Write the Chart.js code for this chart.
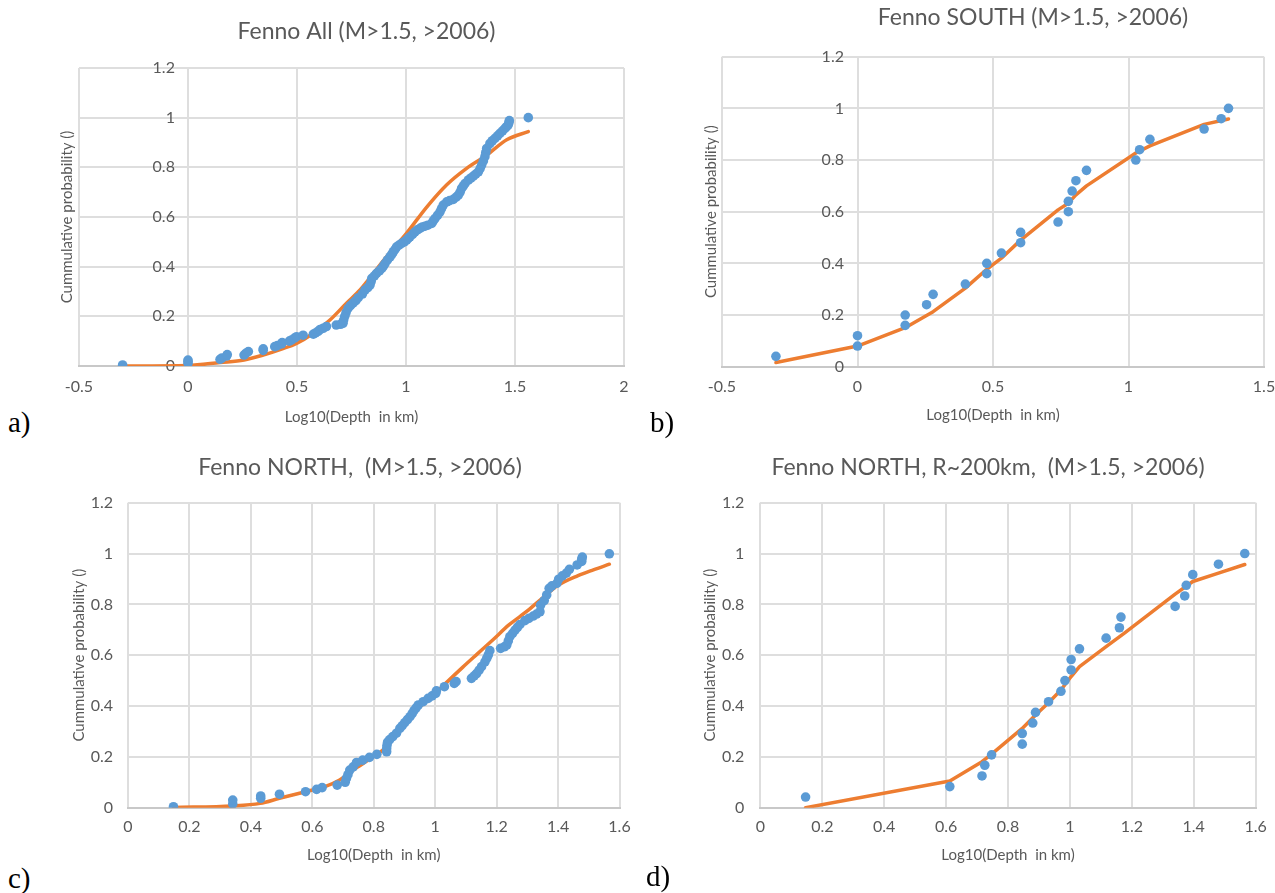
<!DOCTYPE html>
<html>
<head>
<meta charset="utf-8">
<title>Fenno depth distributions</title>
<script src="https://cdn.jsdelivr.net/npm/chart.js@4.4.1/dist/chart.umd.min.js"></script>
<style>
  html, body { margin: 0; padding: 0; width: 1275px; height: 893px; overflow: hidden; background: #fff; }
  .panel { position: absolute; }
  .tag { position: absolute; font-family: "Liberation Serif", "DejaVu Serif", serif; font-size: 29px; line-height: 1; color: #000; }
</style>
</head>
<body>
<div class="panel" style="left:40px;top:0px;width:653px;height:440px"><canvas id="chartAll"></canvas></div>
<div class="panel" style="left:690px;top:0px;width:686px;height:440px"><canvas id="chartSouth"></canvas></div>
<div class="panel" style="left:60px;top:440px;width:600px;height:440px"><canvas id="chartNorth"></canvas></div>
<div class="panel" style="left:690px;top:440px;width:596px;height:440px"><canvas id="chartNorthR"></canvas></div>
<div class="tag" style="left:8px;top:408px">a)</div>
<div class="tag" style="left:650px;top:408px">b)</div>
<div class="tag" style="left:8px;top:864px">c)</div>
<div class="tag" style="left:646px;top:862px">d)</div>
<script>
// ---- tick values ----
const xTicksAll   = [-0.5, 0, 0.5, 1, 1.5, 2];
const xTicksSouth = [-0.5, 0, 0.5, 1, 1.5];
const xTicksNorth = [0, 0.2, 0.4, 0.6, 0.8, 1, 1.2, 1.4, 1.6];
const yTicks      = [0, 0.2, 0.4, 0.6, 0.8, 1, 1.2];

// ---- titles ----
const titleAll    = 'Fenno All (M>1.5, >2006)';
const titleSouth  = 'Fenno SOUTH (M>1.5, >2006)';
const titleNorth  = 'Fenno NORTH,  (M>1.5, >2006)';
const titleNorthR = 'Fenno NORTH, R~200km,  (M>1.5, >2006)';
const xTitle = 'Log10(Depth  in km)';
const yTitle = 'Cummulative probability ()';

// ---- Fenno All: observed log10 depth / cumulative probability ----
const allObsX = [-0.30, 0, 0, 0, 0.147, 0.155, 0.177, 0.18, 0.257, 0.265, 0.277, 0.345, 0.345, 0.398, 0.41, 0.429, 0.432,
  0.465, 0.475, 0.488, 0.498, 0.528, 0.575, 0.585, 0.597, 0.606, 0.62, 0.635, 0.68, 0.70, 0.711, 0.714, 0.719, 0.725,
  0.734, 0.745, 0.757, 0.77, 0.781, 0.80, 0.812, 0.825, 0.835, 0.84, 0.843, 0.855, 0.865, 0.878, 0.889, 0.897, 0.904,
  0.915, 0.927, 0.935, 0.942, 0.95, 0.957, 0.968, 0.98, 0.992, 1.003, 1.01, 1.018, 1.03, 1.041, 1.052, 1.064, 1.075,
  1.087, 1.10, 1.118, 1.125, 1.133, 1.145, 1.156, 1.163, 1.171, 1.187, 1.20, 1.217, 1.23, 1.24, 1.248, 1.255, 1.263,
  1.271, 1.286, 1.298, 1.309, 1.32, 1.332, 1.34, 1.347, 1.355, 1.362, 1.366, 1.370, 1.385, 1.396, 1.408, 1.42, 1.431,
  1.443, 1.454, 1.462, 1.469, 1.472, 1.474, 1.561];
const allObsY = [0.004, 0.011, 0.018, 0.024, 0.027, 0.032, 0.040, 0.046, 0.044, 0.051, 0.058, 0.063, 0.069, 0.078, 0.082, 0.089, 0.094,
  0.100, 0.105, 0.112, 0.118, 0.124, 0.128, 0.133, 0.140, 0.147, 0.152, 0.159, 0.165, 0.168, 0.172, 0.185, 0.200, 0.215,
  0.232, 0.243, 0.253, 0.263, 0.275, 0.290, 0.306, 0.316, 0.326, 0.340, 0.353, 0.363, 0.373, 0.383, 0.393, 0.403, 0.413,
  0.427, 0.440, 0.450, 0.460, 0.470, 0.480, 0.487, 0.494, 0.500, 0.507, 0.514, 0.520, 0.530, 0.540, 0.548, 0.554, 0.560,
  0.563, 0.567, 0.574, 0.584, 0.594, 0.607, 0.621, 0.634, 0.648, 0.661, 0.666, 0.671, 0.680, 0.688, 0.700, 0.715, 0.725,
  0.735, 0.749, 0.757, 0.765, 0.773, 0.782, 0.795, 0.809, 0.826, 0.843, 0.860, 0.876, 0.896, 0.907, 0.917, 0.927, 0.937,
  0.947, 0.957, 0.964, 0.971, 0.980, 0.988, 1.000];
// fitted cumulative curve
const allFitX = [-0.30, 0, 0.147, 0.257, 0.345, 0.429, 0.498, 0.575, 0.651, 0.727, 0.789, 0.82, 0.911, 1.003, 1.095, 1.187, 1.278, 1.37, 1.462, 1.561];
const allFitY = [0, 0.002, 0.014, 0.024, 0.044, 0.068, 0.091, 0.132, 0.185, 0.253, 0.306, 0.339, 0.440, 0.535, 0.640, 0.730, 0.796, 0.849, 0.911, 0.944];

// ---- Fenno SOUTH ----
const southObsX = [-0.301, 0, 0, 0.176, 0.176, 0.255, 0.279, 0.398, 0.477, 0.477, 0.531, 0.602, 0.602, 0.740, 0.778, 0.778,
  0.792, 0.806, 0.845, 1.027, 1.041, 1.079, 1.279, 1.342, 1.369];
const southObsY = [0.04, 0.08, 0.12, 0.16, 0.20, 0.24, 0.28, 0.32, 0.36, 0.40, 0.44, 0.48, 0.52, 0.56, 0.60, 0.64,
  0.68, 0.72, 0.76, 0.80, 0.84, 0.88, 0.92, 0.96, 1.00];
const southFitX = [-0.301, 0, 0.176, 0.279, 0.398, 0.477, 0.531, 0.602, 0.740, 0.778, 0.806, 0.845, 1.027, 1.079, 1.279, 1.369];
const southFitY = [0.016, 0.080, 0.151, 0.213, 0.304, 0.377, 0.420, 0.490, 0.607, 0.633, 0.665, 0.700, 0.827, 0.855, 0.938, 0.959];

// ---- Fenno NORTH ----
const northObsX = [0.148, 0.341, 0.341, 0.432, 0.432, 0.493, 0.578, 0.614, 0.632, 0.681, 0.707, 0.711, 0.716, 0.722, 0.733,
  0.744, 0.764, 0.786, 0.810, 0.842, 0.842, 0.843, 0.845, 0.852, 0.862, 0.874, 0.885, 0.893, 0.901, 0.91, 0.918, 0.925,
  0.931, 0.938, 0.945, 0.961, 0.977, 0.99, 1.002, 1.004, 1.03, 1.062, 1.068, 1.118, 1.127, 1.135, 1.143, 1.151, 1.162,
  1.168, 1.173, 1.178, 1.213, 1.225, 1.233, 1.238, 1.243, 1.252, 1.260, 1.268, 1.276, 1.292, 1.305, 1.319, 1.33, 1.341,
  1.343, 1.355, 1.363, 1.371, 1.38, 1.396, 1.402, 1.414, 1.427, 1.437, 1.462, 1.477, 1.477, 1.479, 1.567];
const northObsY = [0.004, 0.015, 0.030, 0.037, 0.046, 0.053, 0.063, 0.072, 0.079, 0.089, 0.100, 0.115, 0.130, 0.148, 0.161,
  0.178, 0.187, 0.198, 0.210, 0.220, 0.232, 0.245, 0.258, 0.268, 0.280, 0.293, 0.312, 0.323, 0.335, 0.347, 0.358, 0.370,
  0.382, 0.393, 0.404, 0.417, 0.430, 0.440, 0.450, 0.460, 0.476, 0.489, 0.496, 0.509, 0.519, 0.528, 0.541, 0.555, 0.574,
  0.588, 0.601, 0.618, 0.627, 0.633, 0.640, 0.656, 0.673, 0.686, 0.699, 0.710, 0.721, 0.736, 0.745, 0.754, 0.762, 0.771,
  0.797, 0.815, 0.837, 0.863, 0.873, 0.883, 0.899, 0.912, 0.923, 0.938, 0.955, 0.969, 0.978, 0.986, 0.999];
const northFitX = [0.148, 0.341, 0.43, 0.493, 0.578, 0.635, 0.689, 0.733, 0.798, 0.842, 0.875, 0.94, 1.005, 1.04, 1.09, 1.14, 1.19, 1.24, 1.302, 1.352, 1.40, 1.465, 1.515, 1.567];
const northFitY = [0.001, 0.007, 0.017, 0.037, 0.063, 0.080, 0.109, 0.148, 0.200, 0.240, 0.290, 0.384, 0.455, 0.496, 0.553, 0.608, 0.663, 0.719, 0.776, 0.828, 0.875, 0.913, 0.936, 0.958];

// ---- Fenno NORTH, R~200km ----
const northRObsX = [0.146, 0.612, 0.716, 0.725, 0.747, 0.846, 0.846, 0.880, 0.889, 0.931, 0.971, 0.984, 1.004, 1.004,
  1.031, 1.117, 1.160, 1.165, 1.340, 1.371, 1.376, 1.397, 1.480, 1.565];
const northRObsY = [0.042, 0.083, 0.125, 0.167, 0.208, 0.250, 0.292, 0.333, 0.375, 0.417, 0.458, 0.500, 0.542, 0.583,
  0.625, 0.667, 0.708, 0.750, 0.792, 0.833, 0.875, 0.917, 0.958, 1.000];
const northRFitX = [0.146, 0.612, 0.716, 0.747, 0.846, 0.889, 0.931, 0.971, 1.004, 1.031, 1.117, 1.175, 1.340, 1.397, 1.480, 1.565];
const northRFitY = [0, 0.105, 0.181, 0.211, 0.312, 0.365, 0.413, 0.463, 0.516, 0.555, 0.634, 0.686, 0.840, 0.890, 0.923, 0.957];

// ---- shared styling ----
const FONT = 'Lato, "Open Sans", sans-serif';
const TEXT = '#595959';
const GRID = '#dedede';
const AXIS_LINE = '#c8c8c8';
const DOT = '#5b9bd5';
const FIT = '#ed7d31';
const TICK_SIZE = 16, AXIS_TITLE_SIZE = 15, TITLE_SIZE = 23;

const pairs = (xs, ys) => xs.map((x, i) => ({ x: x, y: ys[i] }));
const fmt = v => String(Math.round(v * 10) / 10);

function buildChart(id, s) {
  const tickFont = { family: FONT, size: TICK_SIZE };
  const axisFont = { family: FONT, size: AXIS_TITLE_SIZE };
  const scales = {
    x: {
      type: 'linear',
      min: s.xTicks[0], max: s.xTicks[s.xTicks.length - 1],
      afterBuildTicks: sc => { sc.ticks = s.xTicks.map(v => ({ value: v })); },
      afterFit: sc => { sc.height = s.xAxisH; },
      grid: { color: GRID, lineWidth: 2, drawTicks: false },
      border: { color: AXIS_LINE, width: 2 },
      ticks: { font: tickFont, color: TEXT, padding: s.xTickPad, maxRotation: 0, autoSkip: false, callback: v => fmt(v) },
      title: { display: true, text: xTitle, font: axisFont, color: TEXT, padding: { top: 0, bottom: s.xTitlePadB } }
    },
    y: {
      type: 'linear',
      min: 0, max: 1.2,
      // in the wide-range panels the value labels sit just left of the x = 0 line
      position: s.yAtZero ? { x: -s.yLabelGap } : 'left',
      afterBuildTicks: sc => { sc.ticks = yTicks.map(v => ({ value: v })); },
      grid: { color: GRID, lineWidth: 2, drawTicks: false },
      border: { display: false },
      ticks: { font: tickFont, color: TEXT, padding: s.yTickPad, callback: v => fmt(v) },
      title: { display: !s.yAtZero, text: yTitle, font: axisFont, color: TEXT, padding: { top: s.yTitlePadT, bottom: 0 } }
    },
    // right-hand spacer so the chart title sits where the layout needs it
    pad: {
      type: 'linear', position: 'right', display: true,
      grid: { display: false }, border: { display: false }, ticks: { display: false },
      afterFit: sc => { sc.width = s.padW; }
    }
  };
  if (s.yAtZero) {
    // value labels cross at x = 0; the axis title stays on the outer left edge
    scales.yTitleAxis = {
      type: 'linear', position: 'left', display: true, weight: 10,
      grid: { display: false }, border: { display: false }, ticks: { display: false },
      title: { display: true, text: yTitle, font: axisFont, color: TEXT, padding: { top: s.yTitlePadT, bottom: 0 } },
      afterFit: sc => { sc.width = s.yAxisW; }
    };
  } else {
    scales.y.afterFit = sc => { sc.width = s.yAxisW; };
  }

  return new Chart(document.getElementById(id), {
    type: 'scatter',
    data: {
      datasets: [
        {
          label: 'observed',
          data: pairs(s.obsX, s.obsY),
          xAxisID: 'x', yAxisID: 'y',
          backgroundColor: DOT, borderWidth: 0,
          pointRadius: 4.8, pointHoverRadius: 4.8,
          order: 0
        },
        {
          label: 'fit',
          data: pairs(s.fitX, s.fitY),
          xAxisID: 'x', yAxisID: 'y',
          showLine: true, pointRadius: 0,
          borderColor: FIT, borderWidth: 3.5,
          borderCapStyle: 'round', borderJoinStyle: 'round',
          cubicInterpolationMode: s.smooth ? 'monotone' : 'default',
          tension: 0,
          order: 1
        }
      ]
    },
    options: {
      responsive: true, maintainAspectRatio: false, animation: false,
      layout: { padding: 0 },
      events: [],
      plugins: {
        legend: { display: false },
        tooltip: { enabled: false },
        title: {
          display: true, text: s.title, color: TEXT,
          font: { family: FONT, size: TITLE_SIZE, weight: 'normal' },
          padding: { top: s.titlePadT, bottom: s.titlePadB }
        }
      },
      scales: scales
    }
  });
}

buildChart('chartAll', {
  title: titleAll, xTicks: xTicksAll, yAtZero: true, yLabelGap: 0.06, smooth: true,
  obsX: allObsX, obsY: allObsY, fitX: allFitX, fitY: allFitY,
  yAxisW: 39, yTitlePadT: 18, yTickPad: 15, padW: 69,
  titlePadT: 18.2, titlePadB: 22.2, xAxisH: 74, xTickPad: 11, xTitlePadB: 14
});
buildChart('chartSouth', {
  title: titleSouth, xTicks: xTicksSouth, yAtZero: true, yLabelGap: 0.05, smooth: false,
  obsX: southObsX, obsY: southObsY, fitX: southFitX, fitY: southFitY,
  yAxisW: 32, yTitlePadT: 12, yTickPad: 15, padW: 112,
  titlePadT: 4.2, titlePadB: 24.9, xAxisH: 73.3, xTickPad: 11, xTitlePadB: 16
});
buildChart('chartNorth', {
  title: titleNorth, xTicks: xTicksNorth, yAtZero: false, smooth: true,
  obsX: northObsX, obsY: northObsY, fitX: northFitX, fitY: northFitY,
  yAxisW: 68, yTitlePadT: 9.7, yTickPad: 15, padW: 40.5,
  titlePadT: 14.2, titlePadB: 20.9, xAxisH: 72.3, xTickPad: 10, xTitlePadB: 16
});
buildChart('chartNorthR', {
  title: titleNorthR, xTicks: xTicksNorth, yAtZero: false, smooth: false,
  obsX: northRObsX, obsY: northRObsY, fitX: northRFitX, fitY: northRFitY,
  yAxisW: 70.4, yTitlePadT: 11.6, yTickPad: 16, padW: 30.4,
  titlePadT: 14.2, titlePadB: 20.9, xAxisH: 72.3, xTickPad: 10, xTitlePadB: 16
});
</script>
</body>
</html>
